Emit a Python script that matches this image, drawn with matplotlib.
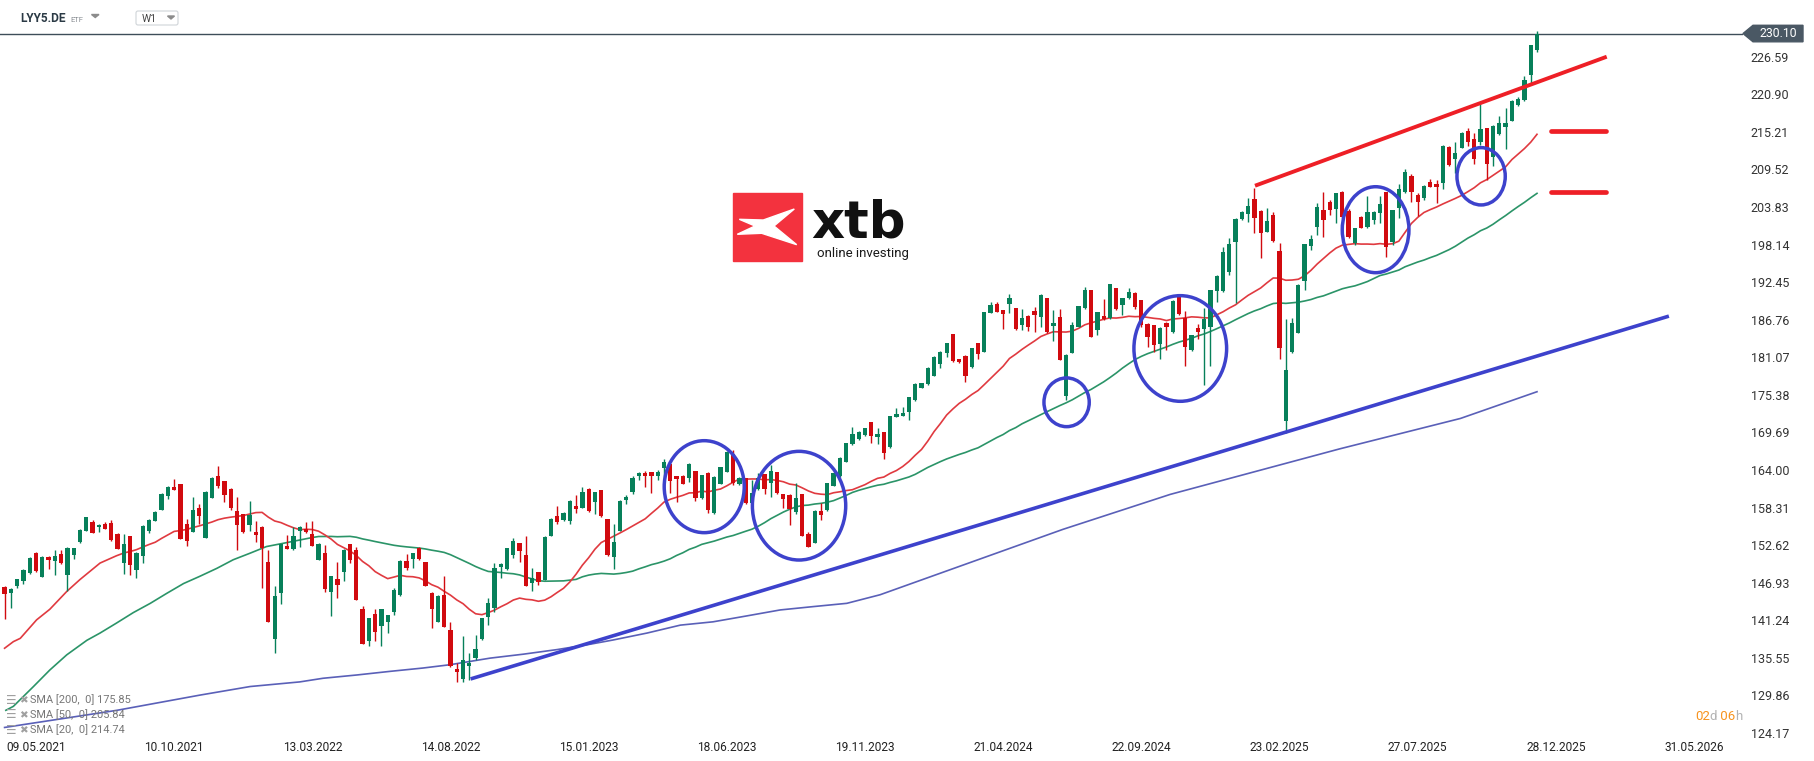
import numpy as np
import pandas as pd
import matplotlib
matplotlib.use("Agg")
import matplotlib.pyplot as plt
from matplotlib.patches import Ellipse, Rectangle, Polygon, FancyBboxPatch
from matplotlib.transforms import blended_transform_factory

plt.rcParams['font.family'] = ['Roboto', 'DejaVu Sans']

# ---------------- data (weekly candles, LYY5.DE) ----------------
first_week = "2021-04-04"
opens = [146.33,145.42,146.43,147.24,148.45,151.38,147.84,150.87,150.27,151.23,
         148.1,151.13,153.14,154.76,156.07,155.32,155.82,156.02,154.31,149.96,
         154.0,148.85,150.97,154.76,156.33,157.94,160.06,161.37,161.88,155.82,
         154.66,158.19,153.75,159.71,163.09,162.33,161.12,157.79,157.33,155.67,
         154.61,155.42,150.07,138.41,145.32,152.54,152.03,
         154.81,155.02,154.3,150.37,151.43,145.57,147.44,148.6,152.79,151.88,
         142.9,138.15,142.14,140.42,141.03,142.55,145.07,150.22,150.52,152.24,
         150.02,145.42,141.03,145.07,139.77,133.86,132.3,134.37,135.58,138.41,
         141.79,143.15,149.26,149.01,151.13,152.89,151.13,146.94,148.5,147.34,
         154.05,157.03,156.43,156.33,158.55,158.29,
         161.12,159.2,160.97,156.58,150.87,154.81,159.46,160.62,163.09,163.6,
         163.65,163.14,164.25,164.9,163.09,163.09,162.74,163.85,159.71,163.6,
         157.54,161.88,163.75,166.37,161.88,162.74,159.05,161.12,163.39,162.08,
         163.65,160.36,160.21,157.59,160.36,154.3,152.99,157.79,157.94,161.57,
         163.09,165.26,167.89,168.64,169.3,171.22,169.05,
         169.7,167.53,172.08,172.23,172.83,174.6,176.47,176.97,178.28,180.05,
         181.67,184.55,180.76,181.3,179.55,183.18,181.92,187.82,189.14,188.23,
         189.14,188.48,185.96,187.32,188.08,187.22,189.99,185.8,187.22,175.26,
         181.77,185.7,188.48,191.26,185.2,187.32,186.97,191.51,188.99,189.99,
         190.85,189.75,186.1,185.96,183.08,186.31,
         184.95,190.25,187.07,182.17,185.45,185.35,185.6,191.06,191.16,194.03,
         198.58,202.01,202.77,205.04,203.27,200.09,202.62,197.16,171.47,181.82,
         184.8,192.67,197.97,200.85,203.37,204.64,203.47,206.05,203.22,198.43,
         202.36,200.85,201.86,202.87,206.05,198.58,203.63,206.15,208.52,205.65,
         205.14,207.56,207.26,207.41,212.9,211.1,
         212.81,215.39,214.07,213.72,215.74,211.45,214.88,216.0,216.9,219.27,220.03,223.87,227.6]
highs = [146.4,146.1,147.5,149.0,150.8,151.58,151.0,150.9,151.88,151.88,
         152.3,152.2,155.0,156.9,156.43,155.82,156.17,156.43,154.4,154.31,
         154.0,151.5,155.6,156.5,157.8,160.57,161.5,162.58,161.9,156.58,
         159.86,158.85,160.8,163.0,164.6,162.4,161.2,159.86,157.4,159.35,
         156.33,155.5,151.88,146.43,152.8,154.15,155.32,
         155.52,156.18,156.28,152.9,152.64,148.0,150.02,152.0,152.8,152.39,
         143.4,141.6,142.9,143.0,142.1,146.1,150.3,151.28,151.4,152.39,
         150.1,145.5,145.0,147.95,140.93,134.72,138.86,136.24,139.01,141.6,
         144.56,149.87,149.87,152.2,153.65,152.9,154.0,149.11,148.6,154.0,
         156.7,158.55,157.6,159.4,160.21,161.37,
         161.2,160.7,161.0,156.6,155.82,159.4,160.21,163.09,163.7,163.85,
         163.7,164.0,165.66,165.0,163.1,163.24,165.0,163.9,163.3,163.7,
         163.1,164.5,166.9,167.03,163.0,162.8,162.48,163.5,163.4,164.76,
         163.7,160.4,160.3,161.98,160.4,154.66,157.9,158.95,162.0,163.7,
         165.9,168.1,170.46,169.9,170.4,171.3,170.31,
         169.8,172.2,173.34,173.49,175.1,177.1,177.2,179.6,181.26,182.0,
         183.2,184.6,180.8,181.4,182.5,183.3,188.0,189.49,189.49,188.3,
         190.65,188.6,188.33,187.4,188.73,190.6,190.0,188.23,188.33,181.5,
         186.46,188.9,191.66,191.3,188.0,189.9,192.2,191.6,190.0,191.51,
         190.9,189.8,186.2,186.0,185.6,186.4,
         189.7,190.3,188.1,184.5,186.11,188.48,191.3,193.5,197.82,199.18,
         202.1,203.2,205.14,206.76,203.4,203.63,203.12,198.43,186.82,186.97,
         192.1,198.3,199.59,204.48,206.15,204.89,206.0,206.2,203.47,200.7,
         202.52,205.5,203.2,205.5,206.1,203.4,207.26,209.58,208.9,205.9,
         207.1,208.02,207.91,213.2,213.0,213.72,
         215.13,215.74,214.98,219.53,215.8,216.2,217.61,218.77,220.0,220.44,223.67,228.4,230.48]
lows = [141.43,143.15,146.1,146.74,148.3,148.6,147.8,149.06,148.1,149.8,
        145.72,150.47,153.0,154.7,154.4,154.66,155.0,153.3,152.0,148.25,
        148.1,147.69,149.86,154.5,156.2,157.9,159.6,160.9,153.5,152.49,
        154.6,155.82,153.7,159.7,161.32,159.2,157.94,151.88,154.5,154.76,
        153.04,146.18,141.0,136.23,143.65,152.0,151.9,
        152.39,154.5,152.5,150.3,145.57,141.89,144.67,147.19,149.97,144.3,
        137.6,137.35,138.15,137.35,139.27,142.0,144.9,148.86,149.21,150.4,
        146.4,140.12,140.9,140.2,134.2,131.94,131.94,132.2,135.23,138.3,
        140.53,142.55,147.59,148.9,150.72,150.12,146.4,145.73,146.58,147.3,
        154.0,155.82,156.2,155.82,157.54,158.2,
        157.7,157.29,156.9,150.97,149.01,154.7,158.8,160.36,162.48,161.47,
        160.57,162.48,162.48,160.57,159.2,161.8,162.23,159.35,159.56,157.44,
        157.4,161.8,163.7,161.73,161.7,158.8,159.0,161.0,160.36,159.96,
        160.4,158.29,155.67,157.34,154.0,152.3,152.9,156.43,157.8,161.5,
        163.0,165.2,167.8,168.5,169.2,168.04,167.89,
        165.66,167.4,172.0,172.1,171.57,174.5,176.4,176.8,178.2,179.4,
        181.16,180.4,180.15,177.38,179.4,180.76,181.8,187.7,187.9,185.35,
        187.72,185.2,185.2,185.05,184.95,185.7,184.8,183.58,180.6,174.6,
        181.7,185.6,188.4,184.1,184.44,186.7,186.9,188.3,187.47,189.9,
        188.33,185.7,182.67,181.82,180.76,182.17,
        184.8,187.5,179.75,182.0,183.84,176.87,179.75,189.49,191.0,193.53,
        189.34,201.9,201.61,199.84,196.05,200.0,198.6,180.76,169.55,181.7,
        184.7,191.26,197.3,199.59,199.33,202.62,201.46,202.2,199.1,198.07,
        200.6,200.7,201.25,201.35,196.31,198.07,202.11,206.0,204.64,202.46,
        204.89,206.8,204.38,206.55,210.0,208.93,
        212.7,213.12,210.29,213.22,207.92,210.09,214.8,212.61,216.8,219.2,219.9,222.56,227.35]
closes = [145.17,145.97,147.44,148.85,150.72,148.75,150.87,150.37,150.97,149.86,
          152.24,152.14,154.91,156.88,154.41,155.67,155.12,153.4,152.08,152.79,
          149.61,151.48,155.52,156.43,157.69,160.36,161.37,160.97,153.55,153.3,
          157.94,157.08,160.72,162.74,161.63,160.21,158.19,155.67,154.66,157.18,
          154.16,152.13,141.03,144.92,152.79,152.08,154.0,
          155.32,154.61,152.54,152.79,145.98,147.95,146.58,151.88,150.37,144.31,
          137.65,141.54,139.52,142.9,142.04,145.83,150.22,149.21,151.38,150.47,
          146.48,142.95,144.92,140.27,134.32,133.46,135.23,134.82,136.89,141.54,
          143.81,149.11,149.71,152.14,153.25,151.73,146.48,147.59,147.09,153.9,
          156.58,156.18,157.54,159.3,158.09,160.62,
          157.84,160.62,157.03,151.13,153.14,159.3,159.96,162.84,163.6,163.14,
          163.14,163.65,165.16,162.38,162.69,161.88,164.9,159.81,163.24,157.94,
          162.99,164.4,166.77,162.08,162.74,158.95,160.46,162.74,161.12,163.85,
          160.57,159.61,158.04,159.71,154.05,152.39,157.79,157.18,161.98,163.6,
          165.87,168.04,169.45,169.8,170.31,169.2,169.4,
          166.62,172.18,172.48,172.68,175.0,176.97,177.12,179.5,181.16,181.92,
          183.18,180.5,180.4,178.23,182.42,181.57,187.87,188.99,187.98,187.57,
          189.99,185.3,186.97,185.7,187.47,190.5,184.85,186.2,180.66,181.41,
          185.96,188.83,191.26,184.19,187.97,186.82,192.17,188.38,189.99,190.99,
          188.73,185.96,184.09,182.93,185.55,185.6,
          189.64,187.62,182.68,184.44,184.95,186.82,191.26,193.38,197.06,198.22,
          202.01,203.02,203.98,202.11,199.84,201.71,198.73,182.42,179.14,186.31,
          192.02,198.22,198.93,203.78,201.86,203.37,205.9,202.36,199.23,200.6,
          200.7,203.12,203.12,204.28,197.82,203.37,206.5,209.08,206.15,204.53,
          207.01,206.91,206.8,213.0,210.2,211.96,
          214.98,213.72,211.1,215.59,210.34,216.1,216.5,216.5,219.88,220.18,223.06,228.36,230.10]

sma20_head_idx = [0, 1.4, 2.5, 5.1, 7.2, 9.9, 12.0, 15.2, 17.8]
sma20_head_val = [137.0, 138.0, 138.5, 141.3, 142.9, 145.6, 147.4, 149.9, 151.0]
sma50_head_idx = [0.2, 1.4, 4.6, 7.2, 9.9, 13.1, 15.2, 17.8, 20.5, 23.2, 25.8, 28.5,
                  31.1, 33.8, 36.4, 39.1, 41.7, 44.4, 47.0]
sma50_head_val = [127.6, 128.2, 131.2, 133.7, 136.0, 138.2, 139.3, 140.8, 142.4, 143.8,
                  145.3, 146.8, 147.9, 149.1, 150.4, 151.4, 152.4, 152.9, 153.4]
sma200_idx = [0, 17.9, 31.1, 39.1, 47.0, 50.7, 56.1, 61.4, 66.6, 70.9, 77.3, 82.6, 88.0,
              93.2, 96.9, 102.3, 107.6, 112.8, 118.2, 123.5, 128.7, 134.1, 139.4, 168.5,
              185.6, 212.6, 231.8, 244]
sma200_val = [125.0, 127.6, 129.9, 131.2, 131.9, 132.45, 132.95, 133.5, 134.0, 134.5,
              135.5, 136.1, 136.8, 137.6, 138.25, 139.3, 140.5, 141.0, 141.9, 142.8,
              143.3, 143.8, 145.1, 155.0, 160.3, 167.2, 171.8, 175.85]

price_ticks = [124.17, 129.86, 135.55, 141.24, 146.93, 152.62, 158.31, 164.00, 169.69,
               175.38, 181.07, 186.76, 192.45, 198.14, 203.83, 209.52, 215.21, 220.90, 226.59]
date_labels = ['09.05.2021', '10.10.2021', '13.03.2022', '14.08.2022', '15.01.2023',
               '18.06.2023', '19.11.2023', '21.04.2024', '22.09.2024', '23.02.2025',
               '27.07.2025', '28.12.2025', '31.05.2026']
legend_rows = ['SMA [200,  0] 175.85', 'SMA [50,  0] 205.84', 'SMA [20,  0] 214.74']

# ---------------- styling ----------------
GREEN = '#07805a'
RED = '#d10a0f'
W, H = 1815, 761
fig = plt.figure(figsize=(W / 100, H / 100), dpi=100)
fig.patch.set_facecolor('white')
ax = fig.add_axes([0, 20 / H, 1743 / W, 741 / H])
ax.set_facecolor('white')

o = np.array(opens); h = np.array(highs); l = np.array(lows); c = np.array(closes)
n = len(c)
idx = np.arange(n)
up = c >= o
cols = np.where(up, GREEN, RED)

# moving averages
cs = pd.Series(c)
sma20 = cs.rolling(20).mean().to_numpy()
sma50 = cs.rolling(50).mean().to_numpy()
x20 = np.concatenate([sma20_head_idx, idx[19:]])
y20 = np.concatenate([sma20_head_val, sma20[19:]])
x50 = np.concatenate([sma50_head_idx, idx[49:]])
y50 = np.concatenate([sma50_head_val, sma50[49:]])
ax.plot(sma200_idx, sma200_val, color='#5a60b8', lw=1.2, zorder=2)
ax.plot(x50, y50, color='#2b9468', lw=1.2, zorder=2)
ax.plot(x20, y20, color='#e03a40', lw=1.2, zorder=2)

# last price line
ax.axhline(c[-1], color='#3e4d59', lw=1.0, zorder=1)

# candles
ax.vlines(idx, l, h, colors=cols, lw=1.0, zorder=3)
body = np.maximum(np.abs(c - o), 0.18)
ax.bar(idx, body, bottom=np.minimum(o, c), width=0.68, color=cols, linewidth=0, zorder=4)

# trend lines and marks
BLUE = '#3d42cc'
ax.plot([74.2, 265.0], [132.35, 187.3], color=BLUE, lw=2.6, zorder=5, solid_capstyle='butt')
ax.plot([199.1, 255.1], [207.05, 226.59], color='#ee1f26', lw=2.8, zorder=5, solid_capstyle='butt')
for lvl in (215.29, 206.05):
    ax.plot([246.3, 255.0], [lvl, lvl], color='#ee1f26', lw=3.4, zorder=5, solid_capstyle='round')
for (cx, cy, ew, eh) in [(111.4, 161.47, 12.74, 13.93), (126.5, 158.59, 14.86, 16.46),
                         (169.1, 174.25, 7.21, 7.38), (187.2, 182.4, 14.76, 16.0),
                         (218.3, 200.39, 10.62, 13.02), (235.1, 208.48, 7.69, 8.68)]:
    ax.add_patch(Ellipse((cx, cy), ew, eh, fill=False, ec=BLUE, lw=2.5, zorder=6))

# axes
ax.set_xlim(-0.73, 276.8)
ax.set_ylim(122.95, 235.18)
for s in ax.spines.values():
    s.set_visible(False)
ax.yaxis.tick_right()
ax.set_yticks(price_ticks)
ax.set_yticklabels([f'{v:.2f}' for v in price_ticks])
ax.tick_params(axis='y', length=0, pad=5.5, labelsize=9, labelcolor='#333333')
d0 = pd.Timestamp(first_week)
xt = [(pd.to_datetime(d, format='%d.%m.%Y') - d0).days / 7 for d in date_labels]
ax.set_xticks(xt)
ax.set_xticklabels(date_labels)
ax.tick_params(axis='x', length=0, pad=0, labelsize=8.6, labelcolor='#222222')

# ---------------- overlay (pixel coordinates) ----------------
ov = fig.add_axes([0, 0, 1, 1], zorder=10)
ov.set_xlim(0, W); ov.set_ylim(H, 0); ov.axis('off')
ov.patch.set_alpha(0)

# header
ov.text(20.5, 19, 'LYY5.DE', fontsize=8.6, fontweight='bold', color='#2b3a45', va='center', ha='left')
ov.text(70, 19.5, 'ETF', fontsize=5.5, color='#8a8f94', va='center', ha='left')
ov.add_patch(Polygon([(91.5, 14.5), (99, 14.5), (95.25, 17.5)], closed=True, color='#8c8c8c'))
ov.add_patch(FancyBboxPatch((136, 11), 42, 14, boxstyle='round,pad=0,rounding_size=2',
                            fc='white', ec='#cfd4d8', lw=0.8))
ov.text(141.5, 18.5, 'W1', fontsize=7.5, color='#444444', va='center', ha='left')
ov.add_patch(Polygon([(167.5, 16), (174.5, 16), (171, 19)], closed=True, color='#8c8c8c'))

# last price tag
tr = blended_transform_factory(ov.transData, ax.transData)
ov.add_patch(Polygon([(1743, c[-1]), (1753, c[-1] + 1.25), (1803, c[-1] + 1.25),
                      (1803, c[-1] - 1.25), (1753, c[-1] - 1.25)], closed=True,
                     color='#4a5864', transform=tr, clip_on=False))
ov.text(1778, c[-1], f'{c[-1]:.2f}', transform=tr, color='white', fontsize=8.8,
        ha='center', va='center')

# logo
ov.add_patch(Rectangle((733.3, 192.7), 68.4, 68, color='#f3323e'))
ov.add_patch(Polygon([(739.3, 219.3), (763.3, 220), (794.3, 209), (774, 226),
                      (796.7, 244.7), (761.7, 233.3), (737.3, 234.3), (755, 226)],
                     closed=True, color='white'))
ov.text(811, 238, 'xtb', fontsize=37, fontweight='bold', color='#111111',
        ha='left', va='baseline', family=['DejaVu Sans'])
ov.text(863, 253, 'online investing', fontsize=9.5, color='#1a1a1a', ha='center', va='center')

# indicator legend
for k, txt in enumerate(legend_rows):
    yy = 700 + 15 * k
    ov.text(6, yy, '\u2630', fontsize=8.5, color='#a0a0a0', va='center', ha='left',
            family=['DejaVu Sans'])
    ov.text(19, yy, '\u2716', fontsize=7.5, color='#a0a0a0', va='center', ha='left',
            family=['DejaVu Sans'])
    ov.text(30.5, yy, txt, fontsize=7.9, color='#777777', va='center', ha='left')

# countdown
fig.canvas.draw()
r = fig.canvas.get_renderer()
xx = 1695
for s, col in [('02', '#f7931e'), ('d', '#b3b3b3'), (' 06', '#f7931e'), ('h', '#b3b3b3')]:
    t = ov.text(xx, 716, s, color=col, fontsize=9.5, va='center', ha='left')
    xx += t.get_window_extent(r).width

fig.savefig('out.png', dpi=100, facecolor='white')
